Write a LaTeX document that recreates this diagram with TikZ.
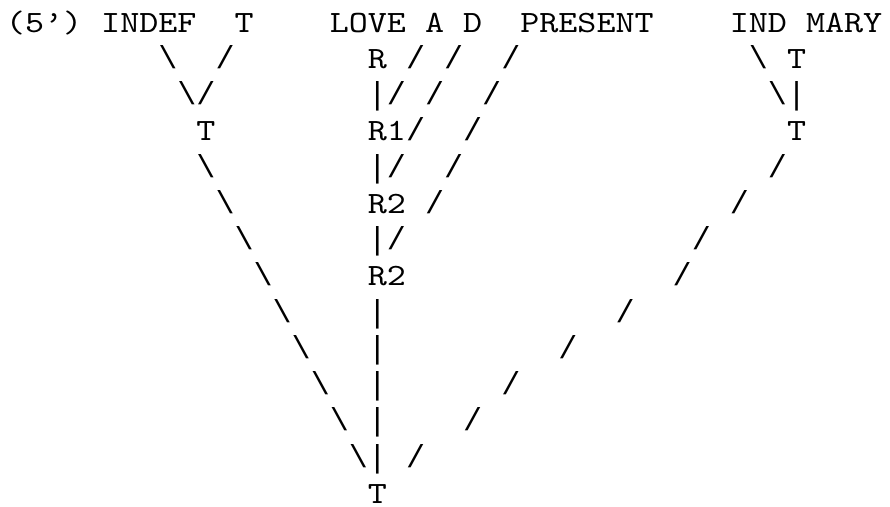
\documentclass[tikz,border=0pt]{standalone}
\usepackage{fontspec}
\newfontfamily\asciimono[FakeStretch=1.1705]{lmmono10-regular.otf}
\newfontfamily\asciipunct{Liberation Mono}
\newcommand\bsl{\textbackslash}
\tikzset{
  tok/.style={anchor=base west, inner sep=0pt, outer sep=0pt, text=black,
    font=\asciimono\fontsize{31}{36}\selectfont},
  tokp/.style={tok, font=\asciipunct\fontsize{31.75}{36}\selectfont}}
\newcommand\tk[4]{\node[tok] (#1) at ({15.5+19.05*(#2)-9.525},{-(32+36.25*((#3)-1))}) {#4};}
\newcommand\tp[4]{\node[tokp] (#1) at ({15.5+19.05*(#2)-9.525},{-(32+36.25*((#3)-1))}) {#4};}
\begin{document}
\begin{tikzpicture}[x=1pt,y=1pt]
\useasboundingbox[fill=white] (0,0) rectangle (890,-506);
% row 1
\tk{paren}{0}{1}{(5’)}
\tk{indef}{5}{1}{INDEF}
\tk{t1}{12}{1}{T}
\tk{love}{17}{1}{LOVE}
\tk{a}{22}{1}{A}
\tk{d}{24}{1}{D}
\tk{present}{27}{1}{PRESENT}
\tk{ind}{38}{1}{IND}
\tk{mary}{42}{1}{MARY}
% row 2
\tp{b2a}{8}{2}{\bsl}
\tp{s2a}{11}{2}{/}
\tk{r}{19}{2}{R}
\tp{s2b}{21}{2}{/}
\tp{s2c}{23}{2}{/}
\tp{s2d}{26}{2}{/}
\tp{b2b}{39}{2}{\bsl}
\tk{t2}{41}{2}{T}
% row 3
\tp{b3a}{9}{3}{\bsl}
\tp{s3a}{10}{3}{/}
\tp{v3}{19}{3}{|}
\tp{s3b}{20}{3}{/}
\tp{s3c}{22}{3}{/}
\tp{s3d}{25}{3}{/}
\tp{b3b}{40}{3}{\bsl}
\tp{v3b}{41}{3}{|}
% row 4
\tk{t4a}{10}{4}{T}
\tk{r1}{19}{4}{R1}
\tp{s4a}{21}{4}{/}
\tp{s4b}{24}{4}{/}
\tk{t4b}{41}{4}{T}
% row 5
\tp{b5}{10}{5}{\bsl}
\tp{v5}{19}{5}{|}
\tp{s5a}{20}{5}{/}
\tp{s5b}{23}{5}{/}
\tp{s5c}{40}{5}{/}
% row 6
\tp{b6}{11}{6}{\bsl}
\tk{r2a}{19}{6}{R2}
\tp{s6a}{22}{6}{/}
\tp{s6b}{38}{6}{/}
% row 7
\tp{b7}{12}{7}{\bsl}
\tp{v7}{19}{7}{|}
\tp{s7a}{20}{7}{/}
\tp{s7b}{36}{7}{/}
% row 8
\tp{b8}{13}{8}{\bsl}
\tk{r2b}{19}{8}{R2}
\tp{s8}{35}{8}{/}
% row 9
\tp{b9}{14}{9}{\bsl}
\tp{v9}{19}{9}{|}
\tp{s9}{32}{9}{/}
% row 10
\tp{b10}{15}{10}{\bsl}
\tp{v10}{19}{10}{|}
\tp{s10}{29}{10}{/}
% row 11
\tp{b11}{16}{11}{\bsl}
\tp{v11}{19}{11}{|}
\tp{s11}{26}{11}{/}
% row 12
\tp{b12}{17}{12}{\bsl}
\tp{v12}{19}{12}{|}
\tp{s12}{24}{12}{/}
% row 13
\tp{b13}{18}{13}{\bsl}
\tp{v13}{19}{13}{|}
\tp{s13}{21}{13}{/}
% row 14
\tk{t14}{19}{14}{T}
\end{tikzpicture}
\end{document}
